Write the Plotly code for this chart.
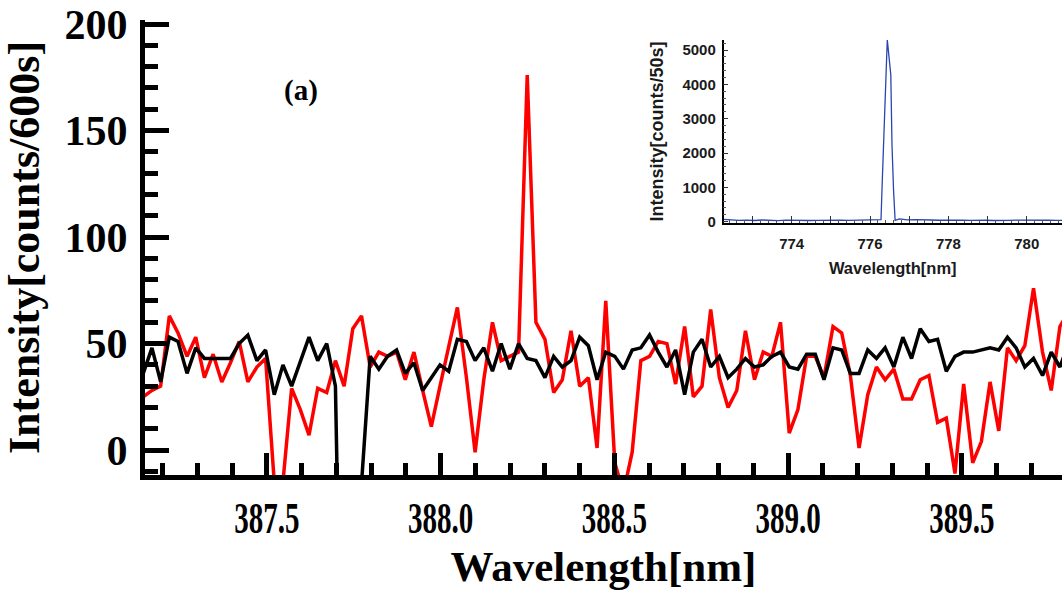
import plotly.graph_objects as go

# ---------------- data ----------------
wavelength_nm = [
    387.144, 387.169, 387.194, 387.219, 387.244, 387.270, 387.295, 387.320, 387.345, 387.370,
    387.395, 387.420, 387.445, 387.471, 387.496, 387.521, 387.546, 387.571, 387.596, 387.621,
    387.646, 387.672, 387.697, 387.722, 387.747, 387.772, 387.797, 387.822, 387.847, 387.873,
    387.898, 387.923, 387.948, 387.973, 387.998, 388.023, 388.048, 388.074, 388.099, 388.124,
    388.149, 388.174, 388.199, 388.224, 388.249, 388.274, 388.300, 388.325, 388.350, 388.375,
    388.400, 388.425, 388.450, 388.475, 388.501, 388.526, 388.551, 388.576, 388.601, 388.626,
    388.651, 388.676, 388.702, 388.727, 388.752, 388.777, 388.802, 388.827, 388.852, 388.877,
    388.903, 388.928, 388.953, 388.978, 389.003, 389.028, 389.053, 389.078, 389.103, 389.129,
    389.154, 389.179, 389.204, 389.229, 389.254, 389.279, 389.304, 389.330, 389.355, 389.380,
    389.405, 389.430, 389.455, 389.480, 389.505, 389.531, 389.556, 389.581, 389.606, 389.631,
    389.656, 389.681, 389.706, 389.732, 389.757, 389.782, 389.807,
]

red_counts = [
    25, 28, 30, 63, 55, 44, 53, 34, 45, 32,
    41, 51, 32, 39, 43, -15, -15, 29, 19, 7,
    29, 27, 42, 30, 57, 63, 39, 46, 44, 46,
    33, 46, 28, 11, 30, 48, 67, 34, -1, 33,
    60, 42, 44, 46, 176, 60, 52, 27, 33, 56,
    30, 34, 1, 70, -6, -20, -1, 42, 44, 51,
    50, 31, 58, 25, 30, 66, 34, 20, 28, 56,
    33, 46, 44, 60, 8, 19, 44, 44, 34, 58,
    55, 35, 1, 26, 39, 33, 38, 24, 24, 33,
    35, 13, 15, -11, 31, -6, 4, 32, 9, 48,
    42, 49, 76, 46, 28, 58, 65,
]

black_counts = [
    36, 48, 32, 53, 51, 36, 48, 43, 43, 43,
    43, 50, 54, 42, 47, 26, 40, 30, 41, 53,
    42, 50, 30, -400, -400, -16, 44, 38, 44, 47,
    36, 41, 28, 34, 40, 37, 52, 51, 42, 48,
    37, 50, 38, 50, 43, 42, 34, 44, 39, 42,
    53, 49, 33, 46, 44, 38, 47, 48, 54, 46,
    39, 47, 26, 46, 52, 39, 44, 34, 38, 43,
    39, 40, 44, 46, 39, 38, 45, 45, 33, 48,
    47, 36, 36, 47, 43, 48, 39, 53, 43, 57,
    51, 52, 37, 44, 46, 46, 47, 48, 47, 53,
    48, 39, 43, 35, 46, 39, 50,
]

inset_wavelength_nm = [
    772.26, 772.45, 772.65, 772.85, 773.05, 773.25, 773.45, 773.65, 773.85, 774.05,
    774.25, 774.45, 774.65, 774.85, 775.05, 775.25, 775.45, 775.65, 775.85, 776.05,
    776.20, 776.28, 776.31, 776.37, 776.44, 776.53, 776.56, 776.60, 776.64, 776.75,
    776.95, 777.15, 777.35, 777.55, 777.75, 777.95, 778.15, 778.35, 778.55, 778.75,
    778.95, 779.15, 779.35, 779.55, 779.75, 779.95, 780.15, 780.35, 780.55, 780.75,
    780.90,
]
inset_counts = [
    70, 55, 40, 45, 35, 50, 40, 30, 45, 38,
    42, 35, 40, 48, 36, 44, 38, 40, 35, 42,
    45, 60, 1120, 2820, 5300, 4280, 2240, 920, 40, 80,
    55, 60, 45, 50, 42, 48, 40, 45, 38, 50,
    42, 36, 48, 40, 44, 38, 46, 40, 42, 38,
    40,
]

main_xticks = [387.5, 388.0, 388.5, 389.0, 389.5]
main_yticks = [0, 50, 100, 150, 200]
inset_xticks = [773, 774, 775, 776, 777, 778, 779, 780]
inset_xticktext = ["", "774", "", "776", "", "778", "", "780"]
inset_yticks = [0, 1000, 2000, 3000, 4000, 5000]

SERIF = "Liberation Serif"
SANS = "Liberation Sans"

fig = go.Figure()
fig.add_trace(go.Scatter(x=wavelength_nm, y=red_counts, mode="lines",
                         line=dict(color="#ff0000", width=3.5), name="red"))
fig.add_trace(go.Scatter(x=wavelength_nm, y=black_counts, mode="lines",
                         line=dict(color="#000000", width=3.5), name="black"))
fig.add_trace(go.Scatter(x=inset_wavelength_nm, y=inset_counts, mode="lines",
                         line=dict(color="#2a44b0", width=1.3), name="inset",
                         xaxis="x2", yaxis="y2"))

fig.update_layout(
    width=1062, height=600,
    margin=dict(l=145, r=0, t=20, b=125, pad=0),
    paper_bgcolor="white", plot_bgcolor="white",
    showlegend=False,
    xaxis=dict(
        range=[387.149, 389.788], showgrid=False, zeroline=False,
        showline=True, linewidth=5, linecolor="black",
        ticks="inside", ticklen=22, tickwidth=5, tickcolor="black",
        tickvals=main_xticks, ticktext=[f"{v:.1f}" for v in main_xticks],
        minor=dict(ticks="inside", ticklen=12, tickwidth=5, tickcolor="black",
                   dtick=0.1, tick0=387.5, showgrid=False),
        tickfont=dict(family=SERIF, size=44, color="black", weight="bold"),
        ticklabelstandoff=0,
        title=dict(text="Wavelength[nm]", standoff=6,
                   font=dict(family=SERIF, size=43, color="black", weight="bold")),
    ),
    yaxis=dict(
        range=[-11.7, 201.9], showgrid=False, zeroline=False,
        showline=True, linewidth=5, linecolor="black",
        ticks="inside", ticklen=24, tickwidth=5, tickcolor="black",
        tickvals=main_yticks,
        minor=dict(ticks="inside", ticklen=13, tickwidth=5, tickcolor="black",
                   dtick=10, tick0=0, showgrid=False),
        tickfont=dict(family=SERIF, size=42, color="black", weight="bold"),
        ticklabelstandoff=4,
        title=dict(text="Intensity[counts/600s]", standoff=14,
                   font=dict(family=SERIF, size=44, color="black", weight="bold")),
    ),
    xaxis2=dict(
        domain=[0.6309, 1.0], anchor="y2", range=[772.26, 780.90],
        showgrid=False, zeroline=False, showline=True, linewidth=1.5, linecolor="black",
        ticks="inside", ticklen=7, tickwidth=1, tickcolor="#333",
        tickvals=inset_xticks, ticktext=inset_xticktext,
        minor=dict(ticks="inside", ticklen=3, tickwidth=1, tickcolor="#555", dtick=0.2, tick0=772),
        tickfont=dict(family=SANS, size=15, color="#1a1a1a", weight="bold"),
        ticklabelstandoff=6,
        title=dict(text="Wavelength[nm]", standoff=12,
                   font=dict(family=SANS, size=16.5, color="#1a1a1a", weight="bold")),
    ),
    yaxis2=dict(
        domain=[0.5538, 0.956], anchor="x2", range=[-38, 5291],
        showgrid=False, zeroline=False, showline=True, linewidth=1.5, linecolor="black",
        ticks="inside", ticklen=5, tickwidth=1, tickcolor="#333",
        tickvals=inset_yticks,
        minor=dict(ticks="inside", ticklen=3, tickwidth=1, tickcolor="#555", dtick=200, tick0=0),
        tickfont=dict(family=SANS, size=15, color="#1a1a1a", weight="bold"),
        ticklabelstandoff=3,
        title=dict(text="Intensity[counts/50s]", standoff=14,
                   font=dict(family=SANS, size=18, color="#1a1a1a", weight="bold")),
    ),
    annotations=[dict(text="(a)", x=0.170, y=0.844, xref="paper", yref="paper",
                      xanchor="center", yanchor="middle", showarrow=False,
                      font=dict(family=SERIF, size=29, color="black", weight="bold"))],
)

# The reference's main x tick labels are tall, narrow (condensed) glyphs:
# squeeze them horizontally around their own centre, keeping them as real text.
post = """
var gd = document.getElementById('{plot_id}');
function squashX(){
  var texts = gd.querySelectorAll('g.xaxislayer-above g.xtick text');
  texts.forEach(function(t){
    var tr = t.getAttribute('transform') || '';
    if (tr.indexOf('scale') === -1) {
      t.setAttribute('transform', tr + ' scale(0.66,1)');
    }
  });
}
squashX();
gd.on('plotly_afterplot', squashX);
"""

fig.write_html("out.html", post_script=post)
